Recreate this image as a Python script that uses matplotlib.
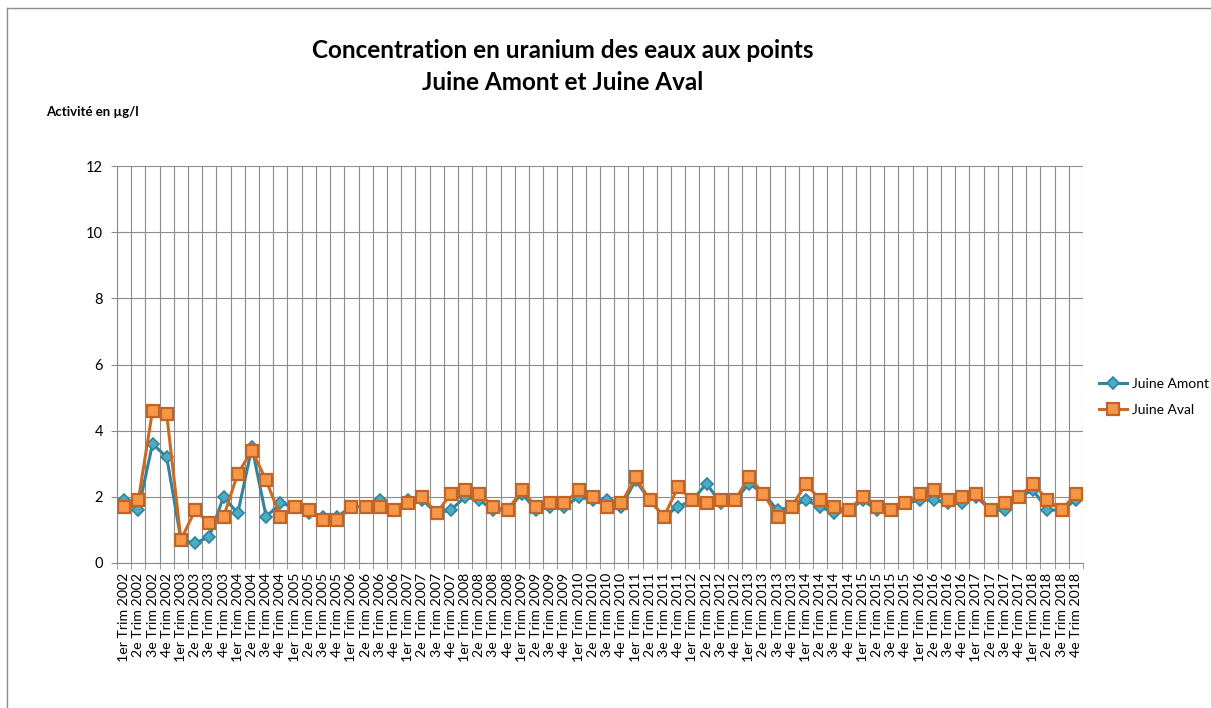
import numpy as np
import matplotlib
matplotlib.use('Agg')
import matplotlib.pyplot as plt
from matplotlib.lines import Line2D

plt.rcParams['font.family'] = ['Lato', 'DejaVu Sans']

years = list(range(2002, 2019))
quarters = ['1er', '2e', '3e', '4e']
categories = [f"{q} Trim {y}" for y in years for q in quarters]

juine_amont = [1.9, 1.6, 3.6, 3.2, 0.7, 0.6, 0.8, 2.0, 1.5, 3.5, 1.4, 1.8,
               1.7, 1.5, 1.4, 1.4, 1.7, 1.7, 1.9, 1.6, 1.9, 1.9, 1.5, 1.6,
               2.0, 1.9, 1.6, 1.6, 2.1, 1.6, 1.7, 1.7, 2.0, 1.9, 1.9, 1.7,
               2.5, 1.9, 1.4, 1.7, 1.9, 2.4, 1.8, 1.9, 2.4, 2.1, 1.6, 1.7,
               1.9, 1.7, 1.5, 1.6, 1.9, 1.6, 1.6, 1.8, 1.9, 1.9, 1.8, 1.8,
               2.0, 1.6, 1.6, 2.0, 2.2, 1.6, 1.6, 1.9]
juine_aval = [1.7, 1.9, 4.6, 4.5, 0.7, 1.6, 1.2, 1.4, 2.7, 3.4, 2.5, 1.4,
              1.7, 1.6, 1.3, 1.3, 1.7, 1.7, 1.7, 1.6, 1.8, 2.0, 1.5, 2.1,
              2.2, 2.1, 1.7, 1.6, 2.2, 1.7, 1.8, 1.8, 2.2, 2.0, 1.7, 1.8,
              2.6, 1.9, 1.4, 2.3, 1.9, 1.8, 1.9, 1.9, 2.6, 2.1, 1.4, 1.7,
              2.4, 1.9, 1.7, 1.6, 2.0, 1.7, 1.6, 1.8, 2.1, 2.2, 1.9, 2.0,
              2.1, 1.6, 1.8, 2.0, 2.4, 1.9, 1.6, 2.1]

W, H = 1211, 708
fig = plt.figure(figsize=(W / 100, H / 100), dpi=100)

# plot area in pixel coords of the reference
left, right, top, bottom = 117, 1083, 166, 563
ax = fig.add_axes([left / W, 1 - bottom / H, (right - left) / W, (bottom - top) / H])

x = np.arange(len(categories))
grid_c = '#8c8c8c'

amont_style = dict(color='#31849B', lw=2.2, marker='D', ms=6.5,
                   mfc='#4BACC6', mec='#31849B', mew=1.2)
aval_style = dict(color='#CC6A24', lw=2.2, marker='s', ms=8,
                  mfc='#F79646', mec='#C0652A', mew=1.6)

ax.plot(x, juine_amont, zorder=3, **amont_style)
ax.plot(x, juine_aval, zorder=4, **aval_style)

ax.set_xlim(-0.5, len(categories) - 0.5)
ax.set_ylim(0, 12)
ax.set_yticks(range(0, 13, 2))
ax.set_xticks(x)
ax.set_xticklabels(categories, rotation=90, fontsize=10.2)
ax.set_xticks(np.arange(-0.5, len(categories)), minor=True)
ax.tick_params(axis='x', which='major', length=0, pad=7)
ax.tick_params(axis='x', which='minor', length=4, color=grid_c)
ax.tick_params(axis='y', length=4, color=grid_c, labelsize=10.5, pad=6)

ax.grid(True, axis='y', color=grid_c, lw=0.8)
ax.grid(True, axis='x', which='minor', color=grid_c, lw=0.8)
ax.set_axisbelow(True)
for s in ['top', 'right']:
    ax.spines[s].set_visible(False)
for s in ['left', 'bottom']:
    ax.spines[s].set_color(grid_c)
    ax.spines[s].set_linewidth(0.8)

fig.text(563 / W, 1 - 50 / H, "Concentration en uranium des eaux aux points",
         ha='center', va='center', fontsize=17.5, fontweight='bold')
fig.text(563 / W, 1 - 82 / H, "Juine Amont et Juine Aval",
         ha='center', va='center', fontsize=17.5, fontweight='bold')
fig.text(46 / W, 1 - 112 / H, "Activité en µg/l", ha='left', va='center',
         fontsize=9.5, fontweight='bold')

handles = [Line2D([], [], **amont_style), Line2D([], [], **aval_style)]
fig.legend(handles, ['Juine Amont', 'Juine Aval'], loc='center left',
           bbox_to_anchor=(1099 / W, 1 - 397 / H), frameon=False,
           borderaxespad=0, borderpad=0,
           fontsize=10, handlelength=2.0, handletextpad=0.35, labelspacing=1.05)

# chart area border (only top and left visible in the crop)
fig.add_artist(Line2D([7 / W, 7 / W], [0, 1 - 8 / H], transform=fig.transFigure,
                      color='#8c8c8c', lw=1))
fig.add_artist(Line2D([7 / W, 1], [1 - 8 / H, 1 - 8 / H], transform=fig.transFigure,
                      color='#8c8c8c', lw=1))

fig.savefig('out.png', dpi=100, facecolor='white')
